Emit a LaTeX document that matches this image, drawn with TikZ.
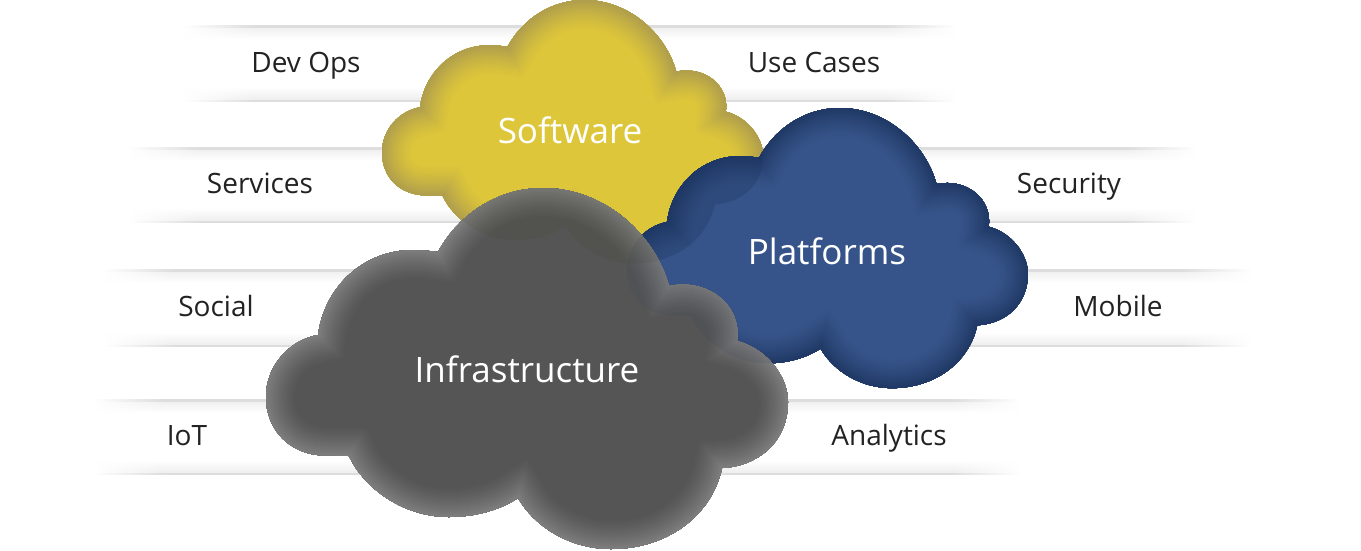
\documentclass[tikz,border=0pt]{standalone}
\usepackage{fontspec}
\setmainfont{Open Sans}
\usetikzlibrary{fadings}
\definecolor{yellowfill}{HTML}{DDC63A}
\definecolor{yellowglow}{HTML}{AE9D4E}
\definecolor{bluefill}{HTML}{37548A}
\definecolor{blueglow}{HTML}{1F3864}
\definecolor{grayfill}{HTML}{555555}
\definecolor{grayglow}{HTML}{7F7F7F}
\definecolor{textdark}{HTML}{222222}
\definecolor{bandline}{HTML}{DDDDDD}
\definecolor{bandsoft}{HTML}{EFEFEF}
\definecolor{tintyellow}{HTML}{45452A}
\definecolor{tintblue}{HTML}{3A4558}
\definecolor{tintnavy}{HTML}{1C3560}
\tikzset{
  sidelabel/.style={anchor=base,text=textdark,font=\fontsize{28}{30}\selectfont,inner sep=0pt},
  cloudlabel/.style={anchor=base,text=white,font=\fontsize{35}{40}\selectfont,inner sep=0pt},
  softwarexf/.style={shift={(382,0)},scale=.73,shift={(-266,-188)}},
  platformxf/.style={shift={(627,108)},xscale=.768,yscale=.776,shift={(-266,-188)}},
  infraxf/.style={},
}
\def\cloudpath{(438,252) .. controls (460,212) and (500,188) .. (543,188)
  .. controls (605,188) and (655,235) .. (669,286)
  .. controls (708,278) and (742,305) .. (737,341)
  .. controls (765,348) and (788,375) .. (788,402)
  .. controls (788,440) and (760,466) .. (722,468)
  .. controls (712,515) and (668,549) .. (611,549)
  .. controls (570,549) and (535,527) .. (518,498)
  .. controls (500,510) and (475,517) .. (449,517)
  .. controls (405,517) and (365,490) .. (349,456)
  -- (325,455.5)
  .. controls (290,455) and (266,430) .. (266,397)
  .. controls (266,365) and (290,340) .. (318,335)
  .. controls (325,285) and (365,250) .. (413,250)
  .. controls (420,250) and (430,251) .. (438,252) -- cycle}
% #1 placement style, #2 fill, #3 glow
\newcommand\cloudshape[3]{%
  \begin{scope}
    \fill[#1,#2] \cloudpath;
    \clip[#1] \cloudpath;
    \foreach \w in {60,58,...,2}{
      \pgfmathsetmacro\mix{100*(1-\w/62)^1.3}
      \draw[#1,draw=#3!\mix!#2,line width=\w pt] \cloudpath;
    }
  \end{scope}}
% #1 upper cloud placement, #2 lower cloud placement, #3 tint, #4 opacity
\newcommand\cloudtint[4]{%
  \begin{scope}
    \clip[#1] \cloudpath;
    \fill[#2,#3,fill opacity=#4] \cloudpath;
  \end{scope}}
\newcommand\band[4]{%
  \foreach \i in {0,1,...,11}{
    \pgfmathsetmacro\mix{100-\i*8.3}
    \fill[bandsoft!\mix!white] (#1,#3+1+\i) rectangle (#2,#3+2+\i);
    \fill[bandsoft!\mix!white] (#1,#4-1-\i) rectangle (#2,#4-2-\i);
  }
  \fill[bandline] (#1,#3-1) rectangle (#2,#3+1.5);
  \fill[bandline] (#1,#4+1) rectangle (#2,#4-1.5);
  \fill[white,path fading=east] (#1-1,#3-2) rectangle (#1+70,#4+2);
  \fill[white,path fading=west] (#2-70,#3-2) rectangle (#2+1,#4+2);
}
\begin{document}
\begin{tikzpicture}[x=1pt,y=-1pt]
  \useasboundingbox (0,0) rectangle (1361,550);
  \fill[white] (0,0) rectangle (1361,550);
  \band{185}{955}{26}{101}
  \band{130}{1195}{148}{222}
  \band{105}{1250}{270}{346}
  \band{95}{1020}{400}{474}
  \node[sidelabel] (devops) at (306,72.5) {Dev Ops};
  \node[sidelabel] (usecases) at (814,72.5) {Use Cases};
  \node[sidelabel] (services) at (260,193) {Services};
  \node[sidelabel] (security) at (1069,193) {Security};
  \node[sidelabel] (social) at (216,316) {Social};
  \node[sidelabel] (mobile) at (1118,316) {Mobile};
  \node[sidelabel] (iot) at (187,445) {IoT};
  \node[sidelabel] (analytics) at (889,445) {Analytics};
  \cloudshape{softwarexf}{yellowfill}{yellowglow}
  \cloudshape{platformxf}{bluefill}{blueglow}
  \cloudtint{platformxf}{softwarexf}{tintnavy}{.3}
  \cloudshape{infraxf}{grayfill}{grayglow}
  \cloudtint{infraxf}{softwarexf}{tintyellow}{.13}
  \cloudtint{infraxf}{platformxf}{tintblue}{.15}
  \node[cloudlabel] (software) at (570,143.5) {Software};
  \node[cloudlabel] (platforms) at (827,264) {Platforms};
  \node[cloudlabel] (infrastructure) at (527,382) {Infrastructure};
\end{tikzpicture}
\end{document}
